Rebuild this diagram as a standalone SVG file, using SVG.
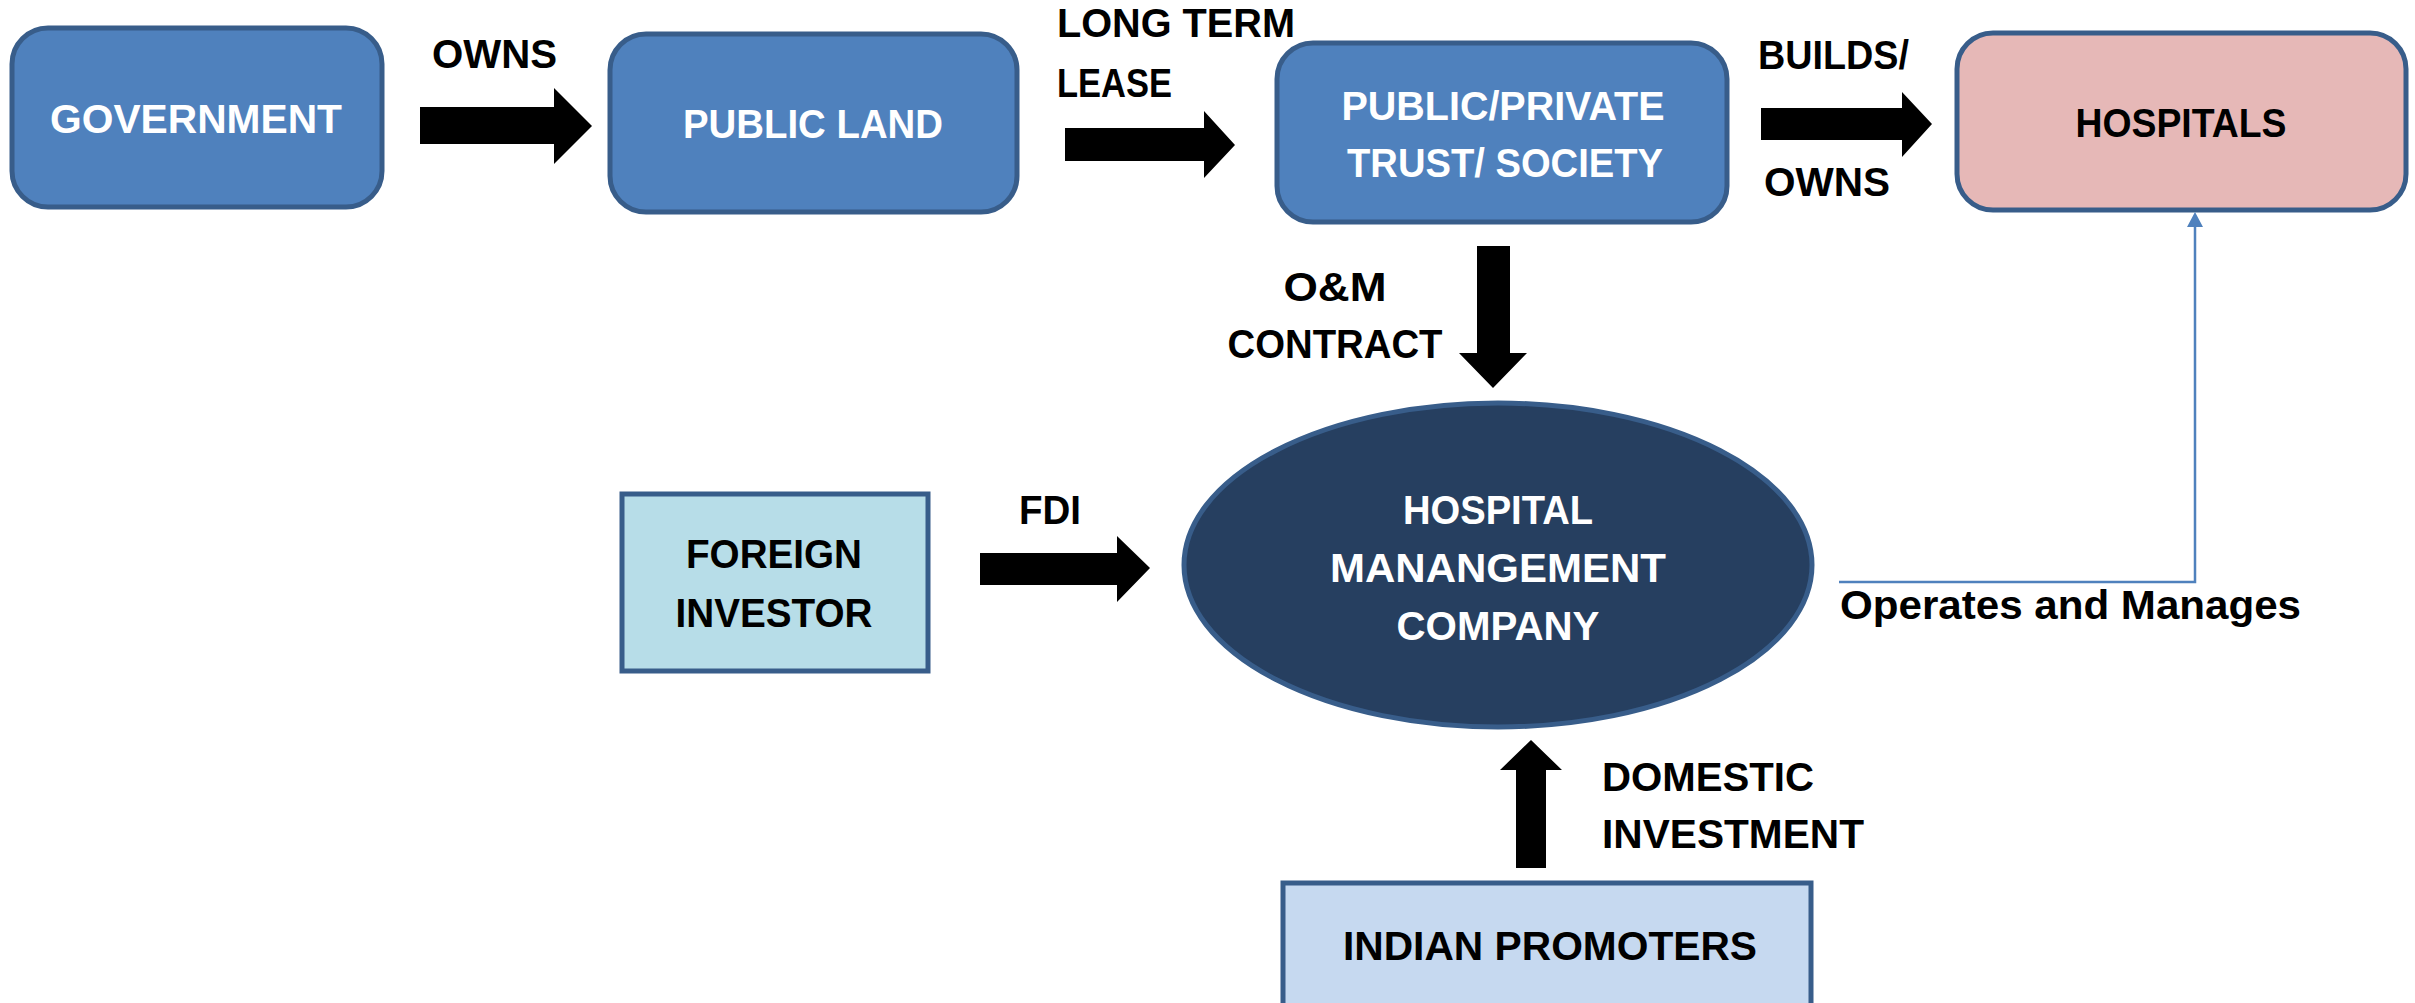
<svg xmlns="http://www.w3.org/2000/svg" width="2415" height="1003" viewBox="0 0 2415 1003">
<style>
text{font-family:"Liberation Sans",Arial,sans-serif;font-weight:bold;font-size:41px}
.w{fill:#ffffff}
.k{fill:#000000}
.blue{fill:#4f81bd;stroke:#385d8a;stroke-width:5}
.pink{fill:#e6b8b7;stroke:#385d8a;stroke-width:5}
.lt{fill:#b7dde8;stroke:#385d8a;stroke-width:5}
.lb{fill:#c6d9f0;stroke:#385d8a;stroke-width:5}
.ell{fill:#263f60;stroke:#385d8a;stroke-width:5}
.blk{fill:#000000}
</style>
<defs>
<marker id="ah" markerWidth="6" markerHeight="6" refX="5.5" refY="3" orient="auto" markerUnits="strokeWidth"><path d="M0,0 L6,3 L0,6 Z" fill="#4f81bd"/></marker>
</defs>
<g id="government"><rect class="blue" x="12" y="28" width="370" height="179" rx="36"/><text class="w" x="196" y="133" text-anchor="middle" textLength="292" lengthAdjust="spacingAndGlyphs">GOVERNMENT</text></g>
<g id="public-land"><rect class="blue" x="610" y="34" width="407" height="178" rx="36"/><text class="w" x="813" y="138" text-anchor="middle" textLength="260" lengthAdjust="spacingAndGlyphs">PUBLIC LAND</text></g>
<g id="trust"><rect class="blue" x="1277" y="43" width="450" height="179" rx="36"/><text class="w" x="1503" y="120" text-anchor="middle" textLength="323" lengthAdjust="spacingAndGlyphs">PUBLIC/PRIVATE</text><text class="w" x="1505" y="177" text-anchor="middle" textLength="316" lengthAdjust="spacingAndGlyphs">TRUST/ SOCIETY</text></g>
<g id="hospitals"><rect class="pink" x="1957" y="33" width="449" height="177" rx="36"/><text class="k" x="2181" y="137" text-anchor="middle" textLength="211" lengthAdjust="spacingAndGlyphs">HOSPITALS</text></g>
<g id="hmc"><ellipse class="ell" cx="1498" cy="565" rx="314" ry="162"/><text class="w" x="1498" y="524" text-anchor="middle" textLength="190" lengthAdjust="spacingAndGlyphs">HOSPITAL</text><text class="w" x="1498" y="582" text-anchor="middle" textLength="336" lengthAdjust="spacingAndGlyphs">MANANGEMENT</text><text class="w" x="1498" y="640" text-anchor="middle" textLength="203" lengthAdjust="spacingAndGlyphs">COMPANY</text></g>
<g id="foreign-investor"><rect class="lt" x="622" y="494" width="306" height="177"/><text class="k" x="774" y="568" text-anchor="middle" textLength="176" lengthAdjust="spacingAndGlyphs">FOREIGN</text><text class="k" x="774" y="627" text-anchor="middle" textLength="197" lengthAdjust="spacingAndGlyphs">INVESTOR</text></g>
<g id="indian-promoters"><rect class="lb" x="1283" y="883" width="528" height="140"/><text class="k" x="1550" y="960" text-anchor="middle" textLength="414" lengthAdjust="spacingAndGlyphs">INDIAN PROMOTERS</text></g>
<g id="connectors">
<polygon class="blk" points="420,107 554,107 554,88 592,126 554,164 554,144 420,144"/>
<polygon class="blk" points="1065,128 1204,128 1204,111 1235,145 1204,178 1204,161 1065,161"/>
<polygon class="blk" points="1761,108 1902,108 1902,92 1932,124 1902,157 1902,140 1761,140"/>
<polygon class="blk" points="1477,246 1510,246 1510,353 1527,353 1493,388 1459,353 1477,353"/>
<polygon class="blk" points="980,553 1117,553 1117,536 1150,568 1117,602 1117,585 980,585"/>
<polygon class="blk" points="1516,868 1546,868 1546,770 1562,770 1531,740 1500,770 1516,770"/>
<polyline points="1839,582 2195,582 2195,226" fill="none" stroke="#4f81bd" stroke-width="2.5"/>
<polygon points="2195,212 2203,227 2187,227" fill="#4f81bd"/>
<text class="k" x="432" y="68" textLength="125" lengthAdjust="spacingAndGlyphs">OWNS</text>
<text class="k" x="1057" y="37" textLength="238" lengthAdjust="spacingAndGlyphs">LONG TERM</text>
<text class="k" x="1057" y="97" textLength="115" lengthAdjust="spacingAndGlyphs">LEASE</text>
<text class="k" x="1758" y="69" textLength="151" lengthAdjust="spacingAndGlyphs">BUILDS/</text>
<text class="k" x="1764" y="196" textLength="126" lengthAdjust="spacingAndGlyphs">OWNS</text>
<text class="k" x="1335" y="301" text-anchor="middle" textLength="103" lengthAdjust="spacingAndGlyphs">O&amp;M</text>
<text class="k" x="1335" y="358" text-anchor="middle" textLength="215" lengthAdjust="spacingAndGlyphs">CONTRACT</text>
<text class="k" x="1019" y="524" textLength="62" lengthAdjust="spacingAndGlyphs">FDI</text>
<text class="k" x="1602" y="791" textLength="212" lengthAdjust="spacingAndGlyphs">DOMESTIC</text>
<text class="k" x="1602" y="848" textLength="262" lengthAdjust="spacingAndGlyphs">INVESTMENT</text>
<text class="k" x="1840" y="619" textLength="461" lengthAdjust="spacingAndGlyphs">Operates and Manages</text>
</g>
</svg>
